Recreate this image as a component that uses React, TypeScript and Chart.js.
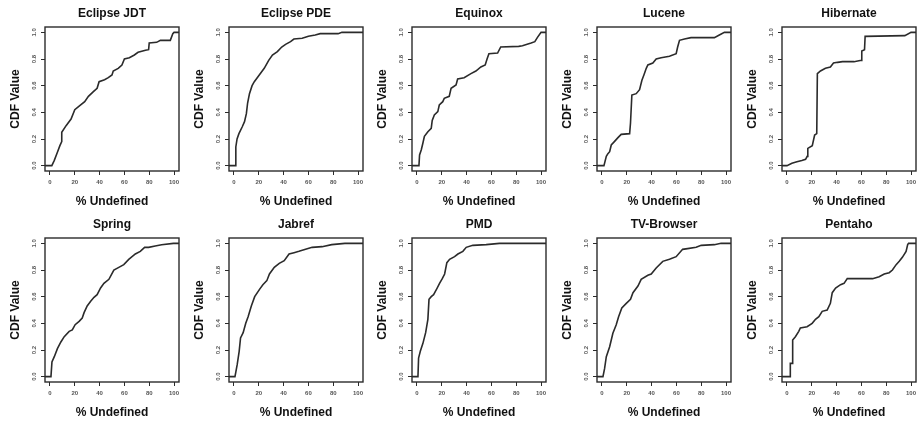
import React, { useEffect, useRef } from "react";
import { Chart, registerables } from "chart.js";

Chart.register(...registerables);
Chart.defaults.font.family = "'Liberation Sans', Arial, sans-serif";

// ---- data ----
const projectNames = [
  "Eclipse JDT", "Eclipse PDE", "Equinox", "Lucene", "Hibernate",
  "Spring", "Jabref", "PMD", "TV-Browser", "Pentaho",
];

const xTicks = [0, 20, 40, 60, 80, 100];
const yTicks = [0, 0.2, 0.4, 0.6, 0.8, 1.0];
const xLimits = [-4, 104];
const yLimits = [-0.04, 1.04];

const jdtPct = [-4, 1.5, 3.5, 6, 8, 9.5, 9.5, 13, 17, 20, 24, 28, 31, 35, 38, 39.6, 44, 47, 50, 51, 55, 58, 60, 64, 68, 71, 77, 79.5, 80, 86, 89, 97, 99, 100, 104];
const jdtCdf = [0, 0, 0.04, 0.1, 0.15, 0.18, 0.25, 0.3, 0.35, 0.42, 0.45, 0.48, 0.52, 0.555, 0.58, 0.63, 0.645, 0.66, 0.68, 0.71, 0.73, 0.755, 0.8, 0.81, 0.83, 0.85, 0.865, 0.87, 0.92, 0.925, 0.94, 0.94, 0.99, 1, 1];

const pdePct = [-4, 1, 1.5, 2.5, 4, 6.6, 8.5, 10, 11, 12.5, 14.6, 16.4, 20.4, 24.4, 28, 31, 35, 38.5, 41.6, 45.6, 48.3, 55, 60, 65.5, 69.5, 84, 87, 104];
const pdeCdf = [0, 0, 0.14, 0.2, 0.24, 0.29, 0.33, 0.39, 0.47, 0.54, 0.6, 0.63, 0.68, 0.73, 0.79, 0.83, 0.855, 0.89, 0.91, 0.93, 0.95, 0.955, 0.97, 0.98, 0.99, 0.99, 1, 1];

const equinoxPct = [-4, 1.6, 2.1, 3.5, 4.8, 6, 8.8, 11.5, 12.3, 14, 16.8, 18, 20.8, 22, 26, 27.5, 31.5, 32.8, 38, 43.5, 47.5, 51.5, 55, 56.5, 58, 65, 67.5, 82, 85, 92, 95, 97, 100, 104];
const equinoxCdf = [0, 0, 0.08, 0.12, 0.17, 0.22, 0.255, 0.28, 0.34, 0.38, 0.405, 0.455, 0.48, 0.505, 0.52, 0.58, 0.605, 0.65, 0.66, 0.69, 0.71, 0.74, 0.755, 0.8, 0.84, 0.845, 0.89, 0.895, 0.9, 0.92, 0.93, 0.96, 1, 1];

const lucenePct = [-4, 1.6, 3.5, 4.8, 6.2, 7.5, 10, 12.9, 15.5, 22.3, 23, 24.1, 27.6, 30.3, 32.2, 33.8, 35.7, 37, 41, 43.7, 47.7, 54.4, 59.8, 61, 62.5, 66.5, 71.8, 90.6, 94.6, 98.7, 104];
const luceneCdf = [0, 0, 0.07, 0.09, 0.105, 0.155, 0.18, 0.21, 0.235, 0.24, 0.32, 0.53, 0.54, 0.57, 0.64, 0.68, 0.73, 0.755, 0.77, 0.8, 0.81, 0.82, 0.84, 0.89, 0.94, 0.95, 0.96, 0.96, 0.98, 1, 1];

const hibernatePct = [-4, 0, 4, 8, 12, 15, 16.3, 16.8, 20.4, 22.3, 24, 24.5, 27, 31, 35, 37.5, 40.8, 44.8, 54, 60, 60.3, 62.5, 63, 95, 100, 104];
const hibernateCdf = [0, 0, 0.018, 0.03, 0.038, 0.048, 0.07, 0.13, 0.15, 0.23, 0.24, 0.69, 0.71, 0.73, 0.74, 0.77, 0.775, 0.78, 0.78, 0.79, 0.86, 0.87, 0.97, 0.975, 1, 1];

const springPct = [-4, 0.8, 1.6, 3.5, 6, 8.8, 11.5, 15.5, 18, 20.3, 23.5, 26, 27.5, 30, 32.8, 35.5, 38, 40.8, 43.5, 47.5, 51.5, 55.5, 59.5, 63.5, 68.8, 72.8, 76.3, 79.5, 84.8, 90, 99.5, 104];
const springCdf = [0, 0, 0.11, 0.15, 0.21, 0.26, 0.3, 0.34, 0.35, 0.39, 0.415, 0.44, 0.48, 0.53, 0.565, 0.595, 0.615, 0.665, 0.7, 0.73, 0.8, 0.82, 0.84, 0.88, 0.92, 0.94, 0.97, 0.97, 0.98, 0.99, 1, 1];

const jabrefPct = [-4, 0.8, 1.6, 2.6, 4.2, 5.3, 7.4, 9.5, 11.4, 14, 16.7, 20.6, 23.3, 26.5, 28.6, 32.5, 36.5, 40.5, 44.4, 48.4, 52.4, 57.7, 63, 71, 78.8, 89.4, 104];
const jabrefCdf = [0, 0, 0.04, 0.09, 0.19, 0.29, 0.33, 0.4, 0.45, 0.53, 0.6, 0.655, 0.69, 0.72, 0.77, 0.82, 0.85, 0.87, 0.92, 0.93, 0.94, 0.955, 0.97, 0.975, 0.99, 1, 1];

const pmdPct = [-4, 0.8, 1.3, 2.7, 4.8, 7, 8.8, 9.7, 11.5, 13.4, 15.5, 18.2, 20.4, 22.3, 24.1, 26.3, 30.3, 33, 37, 39.7, 45, 55.8, 66.5, 104];
const pmdCdf = [0, 0, 0.14, 0.19, 0.25, 0.33, 0.43, 0.58, 0.6, 0.615, 0.65, 0.7, 0.735, 0.77, 0.855, 0.88, 0.9, 0.92, 0.94, 0.97, 0.985, 0.99, 1, 1];

const tvPct = [-4, 0.8, 2.1, 3.5, 6.2, 8.8, 11.5, 13.4, 16, 19.6, 23, 25, 29, 31.6, 37, 39.7, 43.7, 49, 54.4, 59.8, 65, 69, 75.9, 80, 90.6, 96, 104];
const tvCdf = [0, 0, 0.06, 0.15, 0.225, 0.325, 0.39, 0.45, 0.515, 0.55, 0.58, 0.63, 0.68, 0.73, 0.76, 0.77, 0.815, 0.865, 0.88, 0.9, 0.955, 0.96, 0.97, 0.985, 0.99, 1, 1];

const pentahoPct = [-4, 2.7, 2.7, 4.6, 4.6, 6.8, 9.5, 10.8, 16.2, 20.3, 23, 25.7, 28.4, 32.4, 35, 36.5, 39.2, 43.2, 46, 48.6, 69, 74.3, 78.4, 82.4, 85, 88, 90.5, 93, 96, 97.3, 98, 104];
const pentahoCdf = [0, 0, 0.1, 0.1, 0.275, 0.3, 0.34, 0.365, 0.375, 0.4, 0.43, 0.45, 0.49, 0.5, 0.55, 0.63, 0.665, 0.69, 0.7, 0.735, 0.735, 0.75, 0.77, 0.78, 0.8, 0.84, 0.865, 0.895, 0.94, 0.99, 1, 1];

const seriesPct = [jdtPct, pdePct, equinoxPct, lucenePct, hibernatePct, springPct, jabrefPct, pmdPct, tvPct, pentahoPct];
const seriesCdf = [jdtCdf, pdeCdf, equinoxCdf, luceneCdf, hibernateCdf, springCdf, jabrefCdf, pmdCdf, tvCdf, pentahoCdf];

// ---- layout ----
const COL_LEFT = [0, 184, 367, 552, 737];
const ROW_TOP = [0, 211];
const CANVAS_W = 184;
const CANVAS_H = 210;
const INK = "#2b2b2b";

const boxPlugin = {
  id: "rbox",
  afterDatasetsDraw(chart: any) {
    const { ctx, chartArea: a } = chart;
    ctx.save();
    ctx.strokeStyle = INK;
    ctx.lineWidth = 1.4;
    ctx.strokeRect(a.left, a.top, a.right - a.left, a.bottom - a.top);
    ctx.restore();
  },
};

function Panel({ idx }: { idx: number }) {
  const ref = useRef<HTMLCanvasElement>(null);
  useEffect(() => {
    const xs = seriesPct[idx];
    const ys = seriesCdf[idx];
    const labelFont = { size: 12, weight: "bold" as const };
    const tickFont = { size: 6, weight: "bold" as const };
    const chart = new Chart(ref.current!, {
      type: "line",
      data: {
        datasets: [
          {
            data: xs.map((x, i) => ({ x, y: ys[i] })),
            borderColor: INK,
            borderWidth: 1.6,
            pointRadius: 0,
            tension: 0,
            fill: false,
          },
        ],
      },
      options: {
        animation: false,
        responsive: false,
        maintainAspectRatio: false,
        layout: { padding: { left: 0, right: 5, top: 0, bottom: 0 } },
        plugins: {
          legend: { display: false },
          tooltip: { enabled: false },
          title: {
            display: true,
            text: projectNames[idx],
            fullSize: false,
            color: "#111",
            font: labelFont,
            padding: { top: 6, bottom: 6.6 },
          },
        },
        scales: {
          x: {
            type: "linear",
            min: xLimits[0],
            max: xLimits[1],
            afterBuildTicks: (s: any) => {
              s.ticks = xTicks.map((v) => ({ value: v }));
            },
            afterFit: (s: any) => {
              s.height = 39;
            },
            grid: { drawOnChartArea: false, drawTicks: true, tickLength: 4, color: INK, lineWidth: 1 },
            border: { display: false },
            ticks: {
              font: tickFont,
              color: "#555",
              padding: 4,
              minRotation: 0,
              maxRotation: 0,
              autoSkip: false,
              callback: (v: any) => String(v),
            },
            title: {
              display: true,
              text: "% Undefined",
              color: "#111",
              font: labelFont,
              padding: { top: 0, bottom: 1 },
            },
          },
          y: {
            type: "linear",
            min: yLimits[0],
            max: yLimits[1],
            afterBuildTicks: (s: any) => {
              s.ticks = yTicks.map((v) => ({ value: v }));
            },
            afterFit: (s: any) => {
              s.width = 45;
            },
            grid: { drawOnChartArea: false, drawTicks: true, tickLength: 4, color: INK, lineWidth: 1 },
            border: { display: false },
            ticks: {
              font: tickFont,
              color: "#555",
              padding: 2,
              minRotation: 90,
              maxRotation: 90,
              crossAlign: "center",
              autoSkip: false,
              callback: (v: any) => Number(v).toFixed(1),
            },
            title: {
              display: true,
              text: "CDF Value",
              color: "#111",
              font: labelFont,
              padding: { top: 8, bottom: 0 },
            },
          },
        },
      },
      plugins: [boxPlugin],
    } as any);
    return () => chart.destroy();
  }, [idx]);
  const left = COL_LEFT[idx % 5];
  const top = ROW_TOP[Math.floor(idx / 5)];
  return (
    <canvas
      ref={ref}
      width={CANVAS_W}
      height={CANVAS_H}
      style={{ position: "absolute", left, top, width: CANVAS_W, height: CANVAS_H }}
    />
  );
}

export default function App() {
  return (
    <div
      style={{
        position: "absolute",
        left: 0,
        top: 0,
        width: 918,
        height: 421,
        overflow: "hidden",
        background: "#fff",
      }}
    >
      {projectNames.map((_, i) => (
        <Panel key={i} idx={i} />
      ))}
    </div>
  );
}
